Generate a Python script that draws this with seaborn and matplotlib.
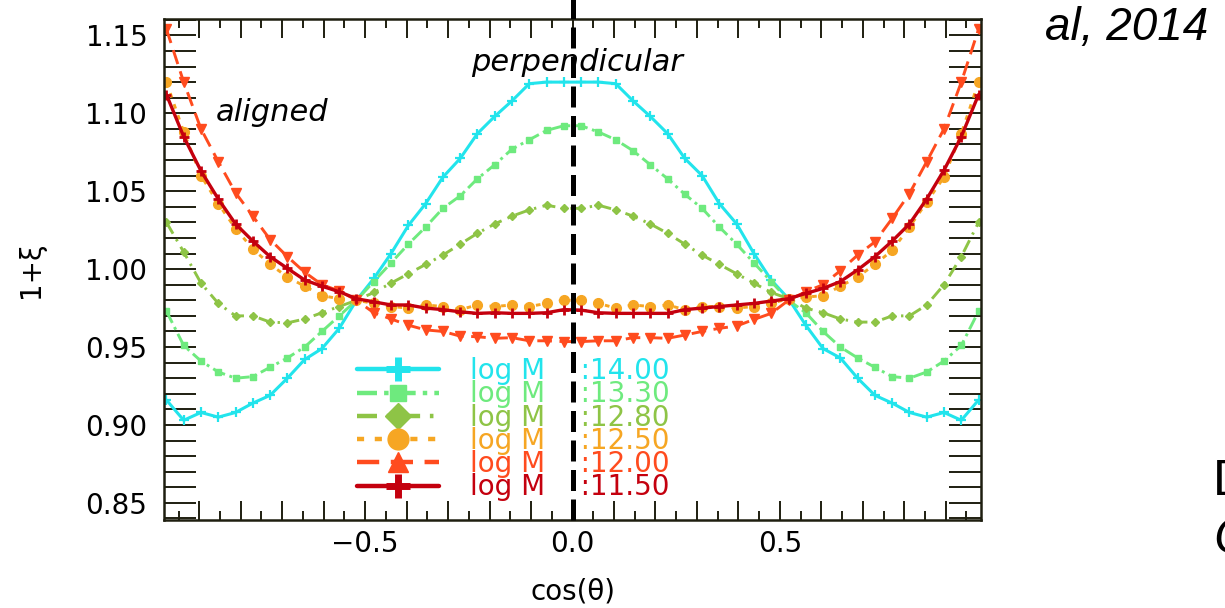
import numpy as np
import pandas as pd
import matplotlib
matplotlib.use("Agg")
import matplotlib.pyplot as plt
import seaborn as sns
from matplotlib.lines import Line2D
from matplotlib.legend_handler import HandlerLine2D
from matplotlib.ticker import MultipleLocator, FuncFormatter

# cos(theta) bin centres: 48 equal-width bins on [-1, 1]
bin_edges = np.linspace(-1.0, 1.0, 49)
cos_theta = 0.5 * (bin_edges[:-1] + bin_edges[1:])

mass_labels = ["14.00", "13.30", "12.80", "12.50", "12.00", "11.50"]

xi_m1400 = [0.916, 0.903, 0.908, 0.905, 0.908, 0.914, 0.919, 0.930, 0.942, 0.949, 0.962, 0.980,
            0.994, 1.010, 1.028, 1.042, 1.059, 1.071, 1.087, 1.098, 1.108, 1.119, 1.120, 1.120,
            1.120, 1.120, 1.119, 1.108, 1.098, 1.087, 1.071, 1.060, 1.042, 1.029, 1.010, 0.993,
            0.981, 0.964, 0.949, 0.943, 0.930, 0.919, 0.914, 0.908, 0.905, 0.908, 0.903, 0.916]
xi_m1330 = [0.973, 0.951, 0.941, 0.934, 0.930, 0.931, 0.937, 0.943, 0.950, 0.960, 0.970, 0.980,
            0.992, 1.004, 1.016, 1.027, 1.039, 1.047, 1.058, 1.067, 1.077, 1.083, 1.089, 1.092,
            1.092, 1.088, 1.083, 1.076, 1.067, 1.058, 1.048, 1.039, 1.027, 1.016, 1.004, 0.992,
            0.980, 0.972, 0.960, 0.950, 0.943, 0.937, 0.931, 0.930, 0.934, 0.941, 0.951, 0.973]
xi_m1280 = [1.030, 1.011, 0.991, 0.978, 0.970, 0.970, 0.966, 0.9655, 0.968, 0.972, 0.976, 0.980,
            0.985, 0.991, 0.997, 1.003, 1.009, 1.016, 1.023, 1.029, 1.034, 1.038, 1.041, 1.039,
            1.039, 1.041, 1.038, 1.034, 1.029, 1.023, 1.016, 1.009, 1.003, 0.997, 0.991, 0.985,
            0.981, 0.975, 0.972, 0.968, 0.966, 0.966, 0.970, 0.970, 0.977, 0.990, 1.008, 1.030]
xi_m1250 = [1.120, 1.088, 1.060, 1.042, 1.026, 1.013, 1.003, 0.995, 0.989, 0.983, 0.981, 0.980,
            0.978, 0.976, 0.975, 0.977, 0.976, 0.974, 0.977, 0.976, 0.977, 0.976, 0.978, 0.980,
            0.980, 0.978, 0.975, 0.977, 0.976, 0.977, 0.974, 0.976, 0.976, 0.975, 0.976, 0.978,
            0.981, 0.982, 0.983, 0.989, 0.995, 1.003, 1.012, 1.027, 1.043, 1.059, 1.087, 1.120]
xi_m1200 = [1.154, 1.120, 1.090, 1.069, 1.049, 1.034, 1.019, 1.008, 0.998, 0.990, 0.986, 0.980,
            0.972, 0.968, 0.964, 0.961, 0.960, 0.957, 0.9566, 0.9556, 0.956, 0.954, 0.954, 0.9535,
            0.9535, 0.954, 0.954, 0.956, 0.956, 0.9556, 0.9577, 0.960, 0.962, 0.9635, 0.9677, 0.9716,
            0.980, 0.9855, 0.990, 0.999, 1.009, 1.0175, 1.0325, 1.0485, 1.069, 1.090, 1.120, 1.154]
xi_m1150 = [1.112, 1.085, 1.063, 1.045, 1.029, 1.018, 1.008, 1.0005, 0.993, 0.989, 0.9855, 0.981,
            0.979, 0.977, 0.977, 0.975, 0.974, 0.9726, 0.9716, 0.972, 0.9716, 0.9716, 0.972, 0.974,
            0.9737, 0.972, 0.9716, 0.9716, 0.9716, 0.9716, 0.974, 0.975, 0.976, 0.977, 0.978, 0.9795,
            0.981, 0.9844, 0.9876, 0.992, 0.9995, 1.008, 1.018, 1.029, 1.045, 1.0635, 1.085, 1.112]

series = [xi_m1400, xi_m1330, xi_m1280, xi_m1250, xi_m1200, xi_m1150]

colors = ["#22E4EC", "#6EEA7E", "#8EC446", "#F6A623", "#FF4B1E", "#C4000E"]
line_styles = ["-", (0, (4.5, 1.6, 1, 1.6)), (0, (4.5, 2.2, 0.8, 2.2)), (0, (1.6, 2.4)),
               (0, (5, 2.6)), "-"]
plot_markers = ["+", "s", "D", "o", "v", "+"]
plot_msize = [7, 4.5, 4.5, 7, 6.5, 7]
plot_mew = [1.6, 1, 1, 1, 1, 2.0]
plot_lw = [2.2, 2.1, 2.1, 2.1, 2.1, 2.4]
legend_markers = ["+", "s", "D", "o", "^", "+"]
legend_msize = [17, 12, 13, 15, 15, 17]
legend_mew = [5, 1, 1, 1, 1, 5]

sns.set_theme(style="white")
plt.rcParams["font.family"] = ["DejaVu Sans"]
plt.rcParams["text.color"] = "black"

fig = plt.figure(figsize=(12.25, 6.08), dpi=100)
ax = fig.add_axes([164 / 1225, 88 / 608, (981 - 164) / 1225, (520 - 19) / 608])

for vals, col, ls, mk, ms, mew, lw in zip(series, colors, line_styles, plot_markers,
                                          plot_msize, plot_mew, plot_lw):
    sns.lineplot(x=cos_theta, y=vals, ax=ax, color=col, linestyle=ls, marker=mk,
                 markersize=ms, markeredgewidth=mew, markeredgecolor=col,
                 markerfacecolor=col, linewidth=lw, legend=False, errorbar=None,
                 sort=False)

ax.set_xlim(-0.985, 0.985)
ax.set_ylim(0.839, 1.1605)

# dashed divider at cos(theta)=0, running up past the frame
ax.axvline(0.0, ymin=0.0, ymax=1.04, color="black", linewidth=3.6,
           dashes=(4.2, 1.7), clip_on=False, zorder=5)

frame_col = "#1e1e10"
for sp in ax.spines.values():
    sp.set_visible(True)
    sp.set_color(frame_col)
    sp.set_linewidth(1.8)

ax.xaxis.set_major_locator(MultipleLocator(0.1))
ax.xaxis.set_minor_locator(MultipleLocator(0.05))
ax.yaxis.set_major_locator(MultipleLocator(0.05))
ax.yaxis.set_minor_locator(MultipleLocator(0.01))


def xfmt(v, pos):
    k = v / 0.5
    if abs(k - round(k)) > 1e-6:
        return ""
    if abs(v) < 1e-9:
        return "0.0"
    return f"{v:.1f}".replace("-", "\u2212")


ax.xaxis.set_major_formatter(FuncFormatter(xfmt))
ax.yaxis.set_major_formatter(FuncFormatter(lambda v, p: f"{v:.2f}"))

ax.tick_params(axis="y", which="both", direction="in", length=23, width=1.4,
               left=True, right=True, color=frame_col, labelsize=20, pad=12,
               labelcolor="black")
ax.tick_params(axis="x", which="major", direction="in", length=14, width=1.4,
               bottom=True, top=True, color=frame_col, labelsize=20, pad=7,
               labelcolor="black")
ax.tick_params(axis="x", which="minor", direction="in", length=6.5, width=1.4,
               bottom=True, top=True, color=frame_col)

ax.set_xlabel("cos(θ)", fontsize=20, labelpad=14, color="black")
ax.set_ylabel("1+ξ", fontsize=20, labelpad=29, color="black")

ax.text(0.01, 1.1327, "perpendicular", fontsize=22, style="italic",
        ha="center", va="center", color="black")
ax.text(-0.725, 1.1006, "aligned", fontsize=22, style="italic",
        ha="center", va="center", color="black")


class EndMarkerHandler(HandlerLine2D):
    """Line segment with its marker drawn near the right end."""

    def get_xdata(self, legend, xdescent, ydescent, width, height, fontsize):
        xdata = np.array([-xdescent, -xdescent + width])
        return xdata, np.array([-xdescent + 0.88 * width])


handles = []
for lab, col, ls, mk, ms, mew in zip(mass_labels, colors, line_styles, legend_markers,
                                     legend_msize, legend_mew):
    h = Line2D([], [], color=col, linestyle=ls, linewidth=3.2, marker=mk,
               markersize=ms, markeredgewidth=mew, markeredgecolor=col,
               markerfacecolor=col, label=f"log M    :{lab}")
    handles.append(h)

leg = ax.legend(handles=handles, loc="upper left",
                bbox_to_anchor=(357 / 1225, 1 - 357 / 608), bbox_transform=fig.transFigure,
                frameon=False, fontsize=20, handlelength=2.95, handletextpad=1.1,
                labelspacing=-0.17, borderpad=0, borderaxespad=0, labelcolor="linecolor",
                handler_map={Line2D: EndMarkerHandler(numpoints=1)})
leg.set_zorder(4)

fig.text(1045 / 1225, 1 - 28 / 608, "al, 2014", fontsize=33, style="italic",
         family=["Liberation Sans", "DejaVu Sans"], ha="left", va="center", color="black")
fig.text(1213 / 1225, 1 - 482 / 608, "D", fontsize=36,
         family=["Liberation Sans", "DejaVu Sans"], ha="left", va="center", color="black")
fig.text(1213 / 1225, 1 - 540 / 608, "C", fontsize=36, style="italic",
         family=["Liberation Sans", "DejaVu Sans"], ha="left", va="center", color="black")

fig.savefig("out.png", dpi=100)
